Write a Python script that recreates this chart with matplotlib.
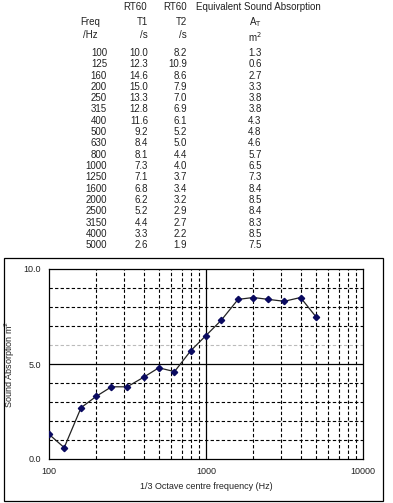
import matplotlib
matplotlib.use("Agg")
import matplotlib.pyplot as plt
from matplotlib.patches import Rectangle
from matplotlib.ticker import FixedLocator, NullLocator

plt.rcParams["font.family"] = ["Liberation Sans", "DejaVu Sans"]

# table / chart data
freqs = [100, 125, 160, 200, 250, 315, 400, 500, 630, 800,
         1000, 1250, 1600, 2000, 2500, 3150, 4000, 5000]
rt60_t1 = [10.0, 12.3, 14.6, 15.0, 13.3, 12.8, 11.6, 9.2, 8.4, 8.1,
           7.3, 7.1, 6.8, 6.2, 5.2, 4.4, 3.3, 2.6]
rt60_t2 = [8.2, 10.9, 8.6, 7.9, 7.0, 6.9, 6.1, 5.2, 5.0, 4.4,
           4.0, 3.7, 3.4, 3.2, 2.9, 2.7, 2.2, 1.9]
absorption = [1.3, 0.6, 2.7, 3.3, 3.8, 3.8, 4.3, 4.8, 4.6, 5.7,
              6.5, 7.3, 8.4, 8.5, 8.4, 8.3, 8.5, 7.5]

W, H = 393, 503
fig = plt.figure(figsize=(W / 100, H / 100), dpi=100)


def fy(y):
    """pixel row -> figure fraction"""
    return 1 - y / H


def fx(x):
    return x / W


txt = dict(fontsize=7, color="#222222", va="center")

# table headers
fig.text(fx(135), fy(7), "RT60", ha="center", **txt)
fig.text(fx(175), fy(7), "RT60", ha="center", **txt)
fig.text(fx(196), fy(7), "Equivalent Sound Absorption", ha="left", **txt)
fig.text(fx(90), fy(22), "Freq", ha="center", **txt)
fig.text(fx(148), fy(22), "T1", ha="right", **txt)
fig.text(fx(187), fy(22), "T2", ha="right", **txt)
fig.text(fx(255), fy(22), "A$_\\mathrm{T}$", ha="center", **txt)
fig.text(fx(83), fy(35), "/Hz", ha="left", **txt)
fig.text(fx(148), fy(35), "/s", ha="right", **txt)
fig.text(fx(187), fy(35), "/s", ha="right", **txt)
fig.text(fx(255), fy(37), "m$^2$", ha="center", **txt)

# table rows
for i, f in enumerate(freqs):
    y = fy(53 + i * 11.3)
    fig.text(fx(107), y, str(f), ha="right", **txt)
    fig.text(fx(148), y, f"{rt60_t1[i]:.1f}", ha="right", **txt)
    fig.text(fx(187), y, f"{rt60_t2[i]:.1f}", ha="right", **txt)
    fig.text(fx(255), y, f"{absorption[i]:.1f}", ha="center", **txt)

# border around the chart
fig.patches.append(Rectangle((fx(4), fy(501)), fx(379), 243 / H,
                             transform=fig.transFigure, fill=False,
                             edgecolor="black", linewidth=0.9))

ax = fig.add_axes([fx(49), fy(459), fx(314), 190 / H])
ax.set_xscale("log")
ax.set_xlim(100, 10000)
ax.set_ylim(0, 10)

# grid lines
for v in [1, 2, 3, 4, 7, 8, 9]:
    ax.axhline(v, color="black", linestyle=(0, (3, 2)), linewidth=0.8)
ax.axhline(6, color="#bbbbbb", linestyle=(0, (3, 2)), linewidth=0.8)
ax.axhline(5, color="black", linewidth=0.9)
for dec in [100, 1000]:
    for m in range(2, 10):
        ax.axvline(dec * m, color="black", linestyle=(0, (3, 2)), linewidth=0.8)
ax.axvline(1000, color="black", linewidth=0.9)

ax.plot(freqs, absorption, color="#222222", linewidth=0.9,
        marker="D", markersize=3.2, markerfacecolor="#0a0a60",
        markeredgecolor="#0a0a60", zorder=5)

ax.xaxis.set_major_locator(FixedLocator([100, 1000, 10000]))
ax.xaxis.set_minor_locator(NullLocator())
ax.set_xticklabels(["100", "1000", "10000"])
ax.set_yticks([0, 5, 10])
ax.set_yticklabels(["0.0", "5.0", "10.0"])
ax.tick_params(length=0, labelsize=6.5, colors="#222222", pad=6)

ax.set_xlabel("1/3 Octave centre frequency (Hz)", fontsize=6.5,
              color="#222222", labelpad=4)
ax.set_ylabel("Sound Absorption m$^2$", fontsize=6.5, color="#222222")
ax.yaxis.set_label_coords(-0.102, 0.5)
for s in ax.spines.values():
    s.set_linewidth(0.9)

fig.savefig("out.png", dpi=100)
